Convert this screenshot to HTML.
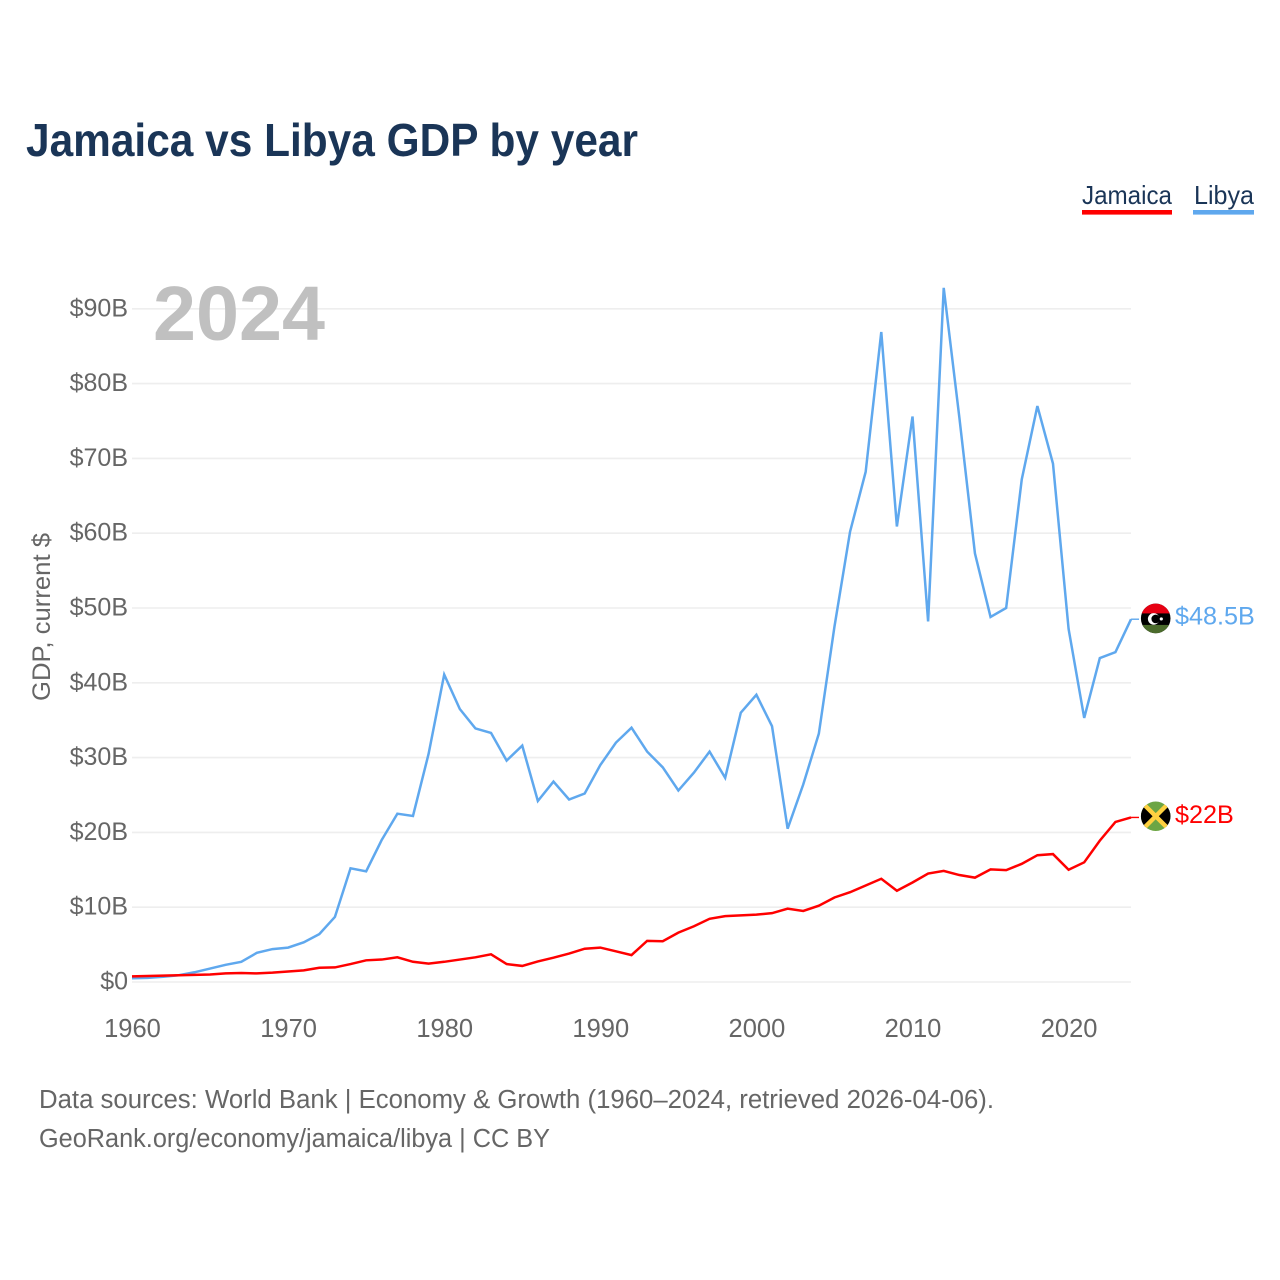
<!DOCTYPE html>
<html lang="en">
<head>
<meta charset="utf-8">
<title>Jamaica vs Libya GDP by year</title>
<style>
  html, body { margin: 0; padding: 0; background: #fff; }
  svg { display: block; font-family: "Liberation Sans", sans-serif; }
  .tick { font-size: 25px; fill: #666; }
</style>
</head>
<body>
<svg id="chart" xmlns="http://www.w3.org/2000/svg" width="1280" height="1280" viewBox="0 0 1280 1280">
  <defs>
    <clipPath id="flag-clip"><circle cx="0" cy="0" r="14.8"></circle></clipPath>
  </defs>
  <rect x="0" y="0" width="1280" height="1280" fill="#fff"></rect>

  <text x="26" y="156" font-size="46" font-weight="700" fill="#1a3557" textLength="612" lengthAdjust="spacingAndGlyphs">Jamaica vs Libya GDP by year</text>

  <g>
    <g>
      <text x="1082" y="204" font-size="26" fill="#1a3557" textLength="90" lengthAdjust="spacingAndGlyphs">Jamaica</text>
      <rect x="1082" y="210" width="90" height="4.6" fill="#ff0000"></rect>
    </g>
    <g>
      <text x="1194" y="204" font-size="26" fill="#1a3557" textLength="60" lengthAdjust="spacingAndGlyphs">Libya</text>
      <rect x="1193" y="210" width="61" height="4.6" fill="#5fa8ee"></rect>
    </g>
  </g>

  <text transform="translate(50 617) rotate(-90)" text-anchor="middle" font-size="25" fill="#666" textLength="168" lengthAdjust="spacingAndGlyphs">GDP, current $</text>

  <g id="grid"></g>
  <g id="y-ticks"></g>
  <g id="x-ticks"></g>

  <text x="153" y="340" font-size="77" font-weight="700" fill="#c0c0c0" textLength="172" lengthAdjust="spacingAndGlyphs">2024</text>

  <g id="series"></g>

  <g id="flag-libya">
    <g clip-path="url(#flag-clip)">
      <rect x="-15" y="-15" width="30" height="30" fill="#000"></rect>
      <rect x="-15" y="-15" width="30" height="10" fill="#e70013"></rect>
      <rect x="-15" y="6.5" width="30" height="9" fill="#4b6b2c"></rect>
      <circle cx="-2" cy="0.5" r="5.8" fill="#fff"></circle>
      <circle cx="0" cy="0.5" r="4.3" fill="#000"></circle>
      <circle cx="5.6" cy="0.5" r="1.6" fill="#fff"></circle>
    </g>
  </g>
  <g id="flag-jamaica">
    <g clip-path="url(#flag-clip)">
      <rect x="-15" y="-15" width="30" height="30" fill="#6ca544"></rect>
      <path d="M-15 -15 L0 0 L-15 15 Z M15 -15 L0 0 L15 15 Z" fill="#000"></path>
      <path d="M-15 -15 L15 15 M15 -15 L-15 15" stroke="#fed141" stroke-width="4.4" fill="none"></path>
    </g>
  </g>
  <g id="end-labels"></g>

  <g>
    <text x="39" y="1108" font-size="25.5" fill="#666" textLength="955" lengthAdjust="spacingAndGlyphs">Data sources: World Bank | Economy &amp; Growth (1960–2024, retrieved 2026-04-06).</text>
    <text x="39" y="1147" font-size="25.5" fill="#666" textLength="511" lengthAdjust="spacingAndGlyphs">GeoRank.org/economy/jamaica/libya | CC BY</text>
  </g>
</svg>

<script>
const startYear = 1960;
const xTickYears = [1960, 1970, 1980, 1990, 2000, 2010, 2020];
const yTickValues = [0, 10, 20, 30, 40, 50, 60, 70, 80, 90];
const yTickLabels = ['$0', '$10B', '$20B', '$30B', '$40B', '$50B', '$60B', '$70B', '$80B', '$90B'];
const jamaicaValues = [0.75, 0.8, 0.85, 0.9, 0.95, 1.0, 1.15, 1.2, 1.15, 1.25, 1.4, 1.55, 1.9, 1.95, 2.4, 2.9, 3.0, 3.3, 2.7, 2.45, 2.7, 3.0, 3.3, 3.7, 2.4, 2.15, 2.75, 3.25, 3.8, 4.45, 4.6, 4.1, 3.6, 5.5, 5.45, 6.6, 7.45, 8.45, 8.8, 8.9, 9.0, 9.2, 9.8, 9.5, 10.2, 11.3, 12.0, 12.9, 13.8, 12.2, 13.3, 14.5, 14.85, 14.3, 13.95, 15.05, 14.95, 15.8, 16.95, 17.1, 15.0, 16.0, 18.9, 21.4, 22.0];
const libyaValues = [0.5, 0.55, 0.7, 0.9, 1.3, 1.8, 2.3, 2.7, 3.9, 4.4, 4.6, 5.3, 6.4, 8.7, 15.2, 14.8, 19.0, 22.5, 22.2, 30.5, 41.1, 36.5, 33.9, 33.3, 29.6, 31.6, 24.2, 26.8, 24.4, 25.2, 29.0, 32.0, 34.0, 30.8, 28.7, 25.6, 28.0, 30.8, 27.3, 36.0, 38.4, 34.2, 20.5, 26.4, 33.2, 47.5, 60.2, 68.2, 86.9, 60.9, 75.6, 48.2, 92.8, 75.5, 57.3, 48.8, 50.0, 67.2, 77.0, 69.3, 47.2, 35.3, 43.3, 44.1, 48.5];

const SVG_NS = 'http://www.w3.org/2000/svg';
const xScale = function (year) { return 132 + (year - 1960) * 15.61; };
const yScale = function (value) { return 982 - value * 7.48; };

function make(tag, attrs, parent, text) {
  const el = document.createElementNS(SVG_NS, tag);
  Object.keys(attrs).forEach(function (k) { el.setAttribute(k, attrs[k]); });
  if (text !== undefined) el.textContent = text;
  parent.appendChild(el);
  return el;
}

const gridG = document.getElementById('grid');
const yG = document.getElementById('y-ticks');
yTickValues.forEach(function (v, i) {
  const line = make('line', { x1: 132, x2: 1131, y1: yScale(v), y2: yScale(v), stroke: '#eeeeee', 'stroke-width': 1.6 }, gridG);
  
  
  const label = make('text', { x: 128, y: yScale(v) + 7.5, 'text-anchor': 'end', class: 'tick' }, yG, yTickLabels[i]);
  
  
});

const xG = document.getElementById('x-ticks');
xTickYears.forEach(function (year) {
  const label = make('text', { x: xScale(year) + 0.5, y: 1037, 'text-anchor': 'middle', class: 'tick', style: 'font-size:25.5px' }, xG, String(year));
  
  
});

function pointsOf(values) {
  return values.map(function (v, i) {
    return xScale(startYear + i).toFixed(2) + ',' + yScale(v).toFixed(2);
  }).join(' ');
}

const seriesG = document.getElementById('series');
const lastYear = startYear + libyaValues.length - 1;
const libyaLast = libyaValues[libyaValues.length - 1];
const jamaicaLast = jamaicaValues[jamaicaValues.length - 1];

const libyaLine = make('polyline', { points: pointsOf(libyaValues), fill: 'none', stroke: '#5fa8ee', 'stroke-width': 2.5, 'stroke-linejoin': 'miter' }, seriesG);



const jamaicaLine = make('polyline', { points: pointsOf(jamaicaValues), fill: 'none', stroke: '#ff0000', 'stroke-width': 2.5, 'stroke-linejoin': 'miter' }, seriesG);



const libyaTail = make('line', { x1: xScale(lastYear), x2: 1139, y1: yScale(libyaLast), y2: yScale(libyaLast), stroke: '#5fa8ee', 'stroke-width': 1.4 }, seriesG);



const jamaicaTail = make('line', { x1: xScale(lastYear), x2: 1139, y1: yScale(jamaicaLast), y2: yScale(jamaicaLast), stroke: '#ff0000', 'stroke-width': 1.4 }, seriesG);



document.getElementById('flag-libya').setAttribute('transform', 'translate(1155.7 ' + (yScale(libyaLast) - 0.8) + ')');
document.getElementById('flag-jamaica').setAttribute('transform', 'translate(1155.7 ' + (yScale(jamaicaLast) - 1.2) + ')');

const labelsG = document.getElementById('end-labels');
const libyaEnd = make('text', { x: 1175, y: yScale(libyaLast) + 5.5, 'font-size': 25.2, fill: '#5fa8ee' }, labelsG, '$' + libyaLast + 'B');



const jamaicaEnd = make('text', { x: 1175, y: yScale(jamaicaLast) + 5.5, 'font-size': 25.2, fill: '#ff0000' }, labelsG, '$' + jamaicaLast + 'B');


</script>
</body>
</html>
